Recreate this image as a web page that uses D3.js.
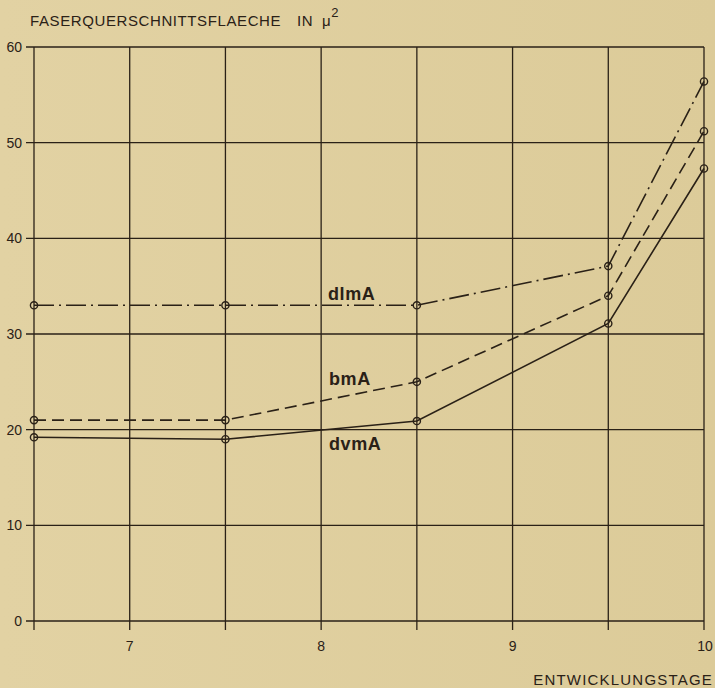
<!DOCTYPE html>
<html>
<head>
<meta charset="utf-8">
<script src="https://cdn.jsdelivr.net/npm/d3@7"></script>
<style>
    body { margin: 0; background: #e1d0a0; }
    svg { display: block; }
    text { font-family: "Liberation Sans", Arial, sans-serif; fill: #2a2117; }
</style>
</head>
<body>
<div id="chart-area"></div>
<script>
// Data
let stages = [6.5, 7.5, 8.5, 9.5, 10];
let dlmA = [33.0, 33.0, 33.0, 37.1, 56.4];
let bmA = [21.0, 21.0, 25.0, 34.0, 51.2];
let dvmA = [19.2, 19.0, 20.9, 31.1, 47.3];
let xTicks = [7, 8, 9, 10];
let yTicks = [0, 10, 20, 30, 40, 50, 60];

let series = [
    {name: "dlmA", values: dlmA, dash: "20,5,2,5", label: [328, 300]},
    {name: "bmA", values: bmA, dash: "12,6", label: [329, 385]},
    {name: "dvmA", values: dvmA, dash: null, label: [329, 450]}
];

let width = 715, height = 688;
let ink = "#2a2117";

let svg = d3.select("#chart-area").append("svg")
    .attr("width", width)
    .attr("height", height);

let x = d3.scaleLinear().domain([6.5, 10]).range([34, 704]);
let y = d3.scaleLinear().domain([0, 60]).range([621, 47]);

// background, slightly darker towards the right like the scan
let grad = svg.append("defs").append("linearGradient").attr("id", "bg");
grad.append("stop").attr("offset", "0%").attr("stop-color", "#e2d2a3");
grad.append("stop").attr("offset", "100%").attr("stop-color", "#dccb99");
svg.append("rect").attr("width", width).attr("height", height).attr("fill", "url(#bg)");

// grid: horizontal every 10, vertical every half day
let vLines = d3.range(6.5, 10.01, 0.5);
svg.append("g").selectAll("line.h")
    .data(yTicks)
    .enter().append("line")
    .attr("x1", x(6.5) - 8).attr("x2", x(10))
    .attr("y1", d => y(d)).attr("y2", d => y(d))
    .attr("stroke", ink).attr("stroke-width", 1.3);

svg.append("g").selectAll("line.v")
    .data(vLines)
    .enter().append("line")
    .attr("x1", d => x(d)).attr("x2", d => x(d))
    .attr("y1", y(60)).attr("y2", y(0) + 9)
    .attr("stroke", ink).attr("stroke-width", 1.3);

// tick labels
svg.append("g").selectAll("text")
    .data(yTicks)
    .enter().append("text")
    .attr("x", 22)
    .attr("y", d => y(d) + 5)
    .attr("text-anchor", "end")
    .style("font-size", "14px")
    .text(d => d);

svg.append("g").selectAll("text")
    .data(xTicks)
    .enter().append("text")
    .attr("x", d => d === 10 ? x(d) + 1 : x(d))
    .attr("y", 651)
    .attr("text-anchor", "middle")
    .style("font-size", "14px")
    .text(d => d);

// axis titles
let title = svg.append("text")
    .attr("x", 30)
    .attr("y", 26)
    .style("font-size", "15px")
    .style("letter-spacing", "0.6px");
title.append("tspan").text("FASERQUERSCHNITTSFLAECHE");
title.append("tspan").attr("x", 297).text("IN");
title.append("tspan").attr("x", 322).text("μ");
title.append("tspan").attr("dy", -9).style("font-size", "13px").text("2");

svg.append("text")
    .attr("x", 713)
    .attr("y", 685)
    .attr("text-anchor", "end")
    .style("font-size", "15px")
    .style("letter-spacing", "1.2px")
    .text("ENTWICKLUNGSTAGE");

// lines
let line = d3.line()
    .x((d, i) => x(stages[i]))
    .y(d => y(d));

series.forEach(s => {
    svg.append("path")
        .attr("d", line(s.values))
        .attr("fill", "none")
        .attr("stroke", ink)
        .attr("stroke-width", 1.6)
        .attr("stroke-dasharray", s.dash);

    svg.append("g").selectAll("circle")
        .data(s.values)
        .enter().append("circle")
        .attr("cx", (d, i) => x(stages[i]))
        .attr("cy", d => y(d))
        .attr("r", 3.6)
        .attr("fill", "none")
        .attr("stroke", ink)
        .attr("stroke-width", 1.4);

    svg.append("text")
        .attr("x", s.label[0])
        .attr("y", s.label[1])
        .style("font-size", "18px")
        .style("font-weight", "bold")
        .style("letter-spacing", "0.6px")
        .text(s.name);
});
</script>
</body>
</html>
